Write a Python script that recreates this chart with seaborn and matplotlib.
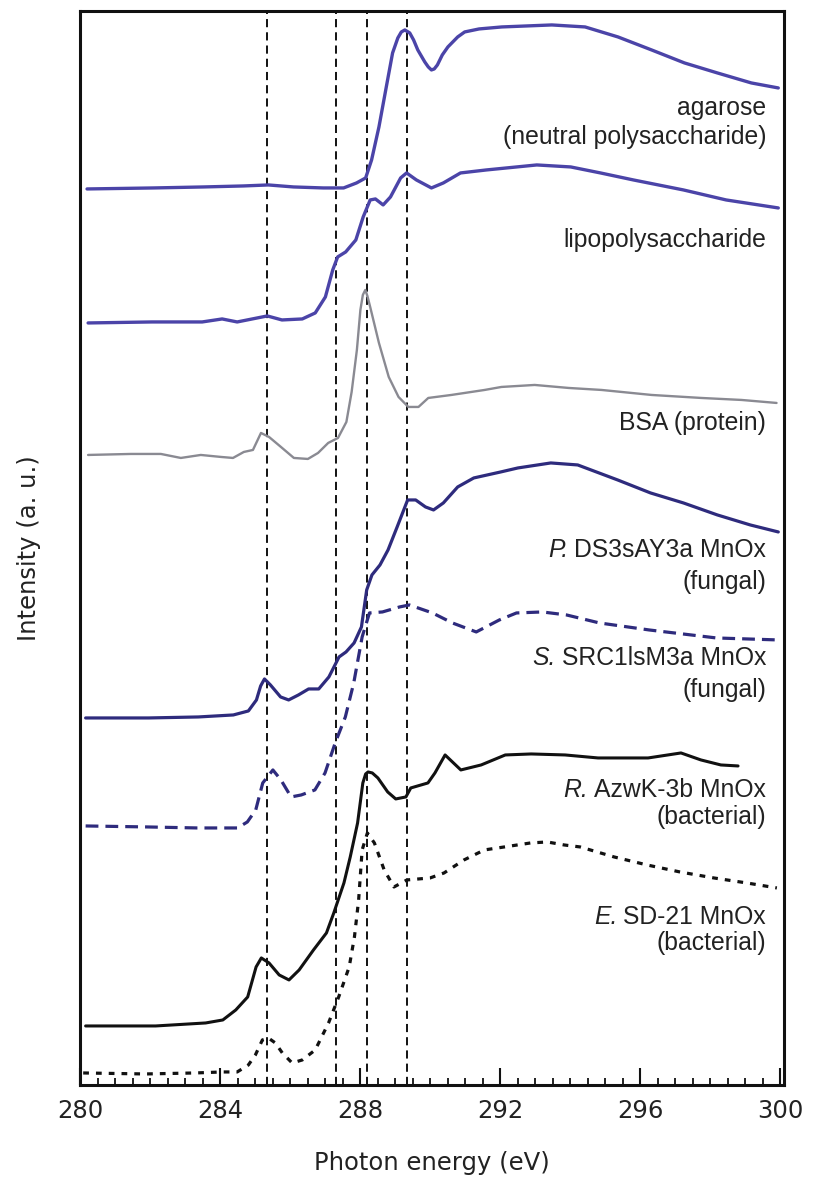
import matplotlib
matplotlib.use("Agg")
import matplotlib.pyplot as plt
import seaborn as sns
import numpy as np
import pandas as pd

# ---------------- data (photon energy in eV, intensity in a.u., offset stacked) -------------
agarose_ev = [280.2, 282.1, 283.53, 284.67, 285.38, 286.1, 286.95, 287.53, 287.9, 288.16, 288.33,
              288.54, 288.75, 288.93, 289.08, 289.18, 289.28, 289.42, 289.53, 289.65, 289.85, 289.95,
              290.04, 290.12, 290.21, 290.35, 290.51, 290.79, 290.99, 291.4, 292.05, 293.48, 294.43,
              295.37, 296.33, 297.27, 298.21, 299.18, 299.95]
agarose_int = [8.98, 8.99, 9.00, 9.01, 9.02, 9.00, 8.99, 8.99, 9.04, 9.09, 9.27,
               9.60, 10.00, 10.34, 10.49, 10.55, 10.57, 10.54, 10.47, 10.37, 10.25, 10.20,
               10.17, 10.18, 10.22, 10.32, 10.40, 10.50, 10.55, 10.58, 10.60, 10.62, 10.60,
               10.50, 10.37, 10.24, 10.14, 10.04, 9.99]

lps_ev = [280.23, 282.06, 283.49, 284.06, 284.49, 285.35, 285.77, 286.35, 286.72, 287.01, 287.22,
          287.36, 287.59, 287.88, 288.09, 288.29, 288.44, 288.66, 288.87, 289.16, 289.33, 289.61,
          290.04, 290.38, 290.87, 291.61, 293.05, 294.02, 294.87, 295.81, 297.24, 298.46, 299.95]
lps_int = [7.64, 7.65, 7.65, 7.68, 7.65, 7.71, 7.67, 7.68, 7.74, 7.90, 8.17,
           8.30, 8.35, 8.47, 8.70, 8.87, 8.88, 8.82, 8.90, 9.09, 9.14, 9.07,
           8.99, 9.04, 9.14, 9.17, 9.22, 9.20, 9.14, 9.07, 8.97, 8.87, 8.79]

bsa_ev = [280.23, 281.45, 282.31, 282.88, 283.45, 284.03, 284.37, 284.68, 284.94, 285.17, 285.4,
          285.74, 286.11, 286.51, 286.8, 287.09, 287.37, 287.61, 287.76, 287.91, 288.01, 288.08,
          288.15, 288.21, 288.29, 288.54, 288.82, 289.1, 289.38, 289.67, 289.95, 290.61, 291.56,
          292.04, 292.99, 293.96, 294.9, 296.33, 297.75, 298.9, 299.9]
bsa_int = [6.32, 6.33, 6.33, 6.29, 6.32, 6.30, 6.29, 6.35, 6.37, 6.54, 6.50,
           6.40, 6.29, 6.28, 6.34, 6.44, 6.49, 6.65, 6.95, 7.37, 7.77, 7.92,
           7.97, 7.91, 7.80, 7.44, 7.10, 6.90, 6.80, 6.80, 6.89, 6.92, 6.97,
           7.00, 7.02, 6.99, 6.97, 6.92, 6.89, 6.87, 6.84]

p_ev = [280.16, 281.96, 283.38, 284.38, 284.81, 285.04, 285.16, 285.27, 285.44, 285.73, 285.96,
        286.24, 286.53, 286.82, 287.11, 287.4, 287.6, 287.83, 288.04, 288.19, 288.34, 288.57,
        288.8, 289.06, 289.36, 289.59, 289.87, 290.1, 290.38, 290.79, 291.25, 292.02, 292.51,
        293.45, 294.22, 295.36, 296.3, 297.24, 298.21, 299.15, 299.95]
p_int = [3.69, 3.69, 3.70, 3.72, 3.76, 3.87, 4.01, 4.08, 4.02, 3.90, 3.87,
         3.92, 3.98, 3.98, 4.10, 4.30, 4.35, 4.44, 4.60, 4.97, 5.12, 5.22,
         5.37, 5.60, 5.87, 5.87, 5.80, 5.77, 5.84, 6.00, 6.09, 6.15, 6.19,
         6.24, 6.22, 6.07, 5.94, 5.84, 5.72, 5.62, 5.55]

s_ev = [280.16, 281.93, 283.35, 284.5, 284.78, 285.02, 285.22, 285.51, 285.74, 286.03, 286.32,
        286.71, 287.0, 287.29, 287.58, 287.82, 288.06, 288.27, 288.64, 289.13, 289.41, 290.07,
        290.64, 291.32, 291.98, 292.47, 293.21, 293.9, 294.84, 296.26, 298.18, 299.95]
s_int = [2.61, 2.60, 2.59, 2.59, 2.65, 2.77, 3.04, 3.17, 3.07, 2.90, 2.92,
         2.97, 3.14, 3.44, 3.70, 4.04, 4.50, 4.74, 4.75, 4.80, 4.82, 4.74,
         4.64, 4.55, 4.67, 4.74, 4.75, 4.72, 4.64, 4.57, 4.49, 4.47]

r_ev = [280.16, 282.16, 283.59, 284.08, 284.45, 284.79, 285.03, 285.18, 285.4, 285.69, 285.97,
        286.26, 286.67, 287.04, 287.25, 287.54, 287.72, 287.93, 288.08, 288.16, 288.23, 288.35,
        288.51, 288.79, 289.02, 289.31, 289.45, 289.94, 290.14, 290.43, 290.88, 291.46, 292.15,
        292.89, 293.86, 294.8, 296.23, 297.17, 297.74, 298.31, 298.8]
r_int = [0.61, 0.61, 0.64, 0.67, 0.77, 0.90, 1.20, 1.29, 1.24, 1.12, 1.07,
         1.17, 1.37, 1.54, 1.74, 2.04, 2.30, 2.64, 3.04, 3.13, 3.15, 3.14,
         3.09, 2.95, 2.88, 2.90, 2.99, 3.04, 3.14, 3.32, 3.17, 3.22, 3.32,
         3.33, 3.32, 3.29, 3.29, 3.34, 3.27, 3.22, 3.21]

e_ev = [280.09, 281.86, 283.29, 284.06, 284.49, 284.81, 285.01, 285.21, 285.38, 285.58, 285.78,
        286.06, 286.35, 286.72, 287.1, 287.39, 287.69, 287.84, 287.96, 288.06, 288.21, 288.41,
        288.69, 288.97, 289.34, 290.0, 290.4, 290.97, 291.55, 292.12, 292.87, 293.35, 293.83,
        294.29, 295.26, 296.2, 297.14, 298.11, 299.05, 299.91]
e_int = [0.14, 0.13, 0.14, 0.15, 0.15, 0.22, 0.32, 0.47, 0.49, 0.44, 0.34,
         0.24, 0.27, 0.37, 0.64, 0.90, 1.20, 1.50, 1.87, 2.37, 2.54, 2.44,
         2.17, 2.00, 2.07, 2.09, 2.14, 2.27, 2.37, 2.40, 2.44, 2.45, 2.42,
         2.40, 2.30, 2.22, 2.15, 2.09, 2.04, 1.99]

ref_lines_ev = [285.35, 287.3, 288.2, 289.35]

x_ticks = [280, 284, 288, 292, 296, 300]

# (genus in italics or "", rest of the line, y position)
label_lines = [
    ("", "agarose", 9.79),
    ("", "(neutral polysaccharide)", 9.50),
    ("", "lipopolysaccharide", 8.47),
    ("", "BSA (protein)", 6.64),
    ("P.", "DS3sAY3a MnOx", 5.37),
    ("", "(fungal)", 5.05),
    ("S.", "SRC1lsM3a MnOx", 4.29),
    ("", "(fungal)", 3.97),
    ("R.", "AzwK-3b MnOx", 2.97),
    ("", "(bacterial)", 2.70),
    ("E.", "SD-21 MnOx", 1.70),
    ("", "(bacterial)", 1.44),
]

# ---------------- style ----------------
sns.set_style("ticks")
plt.rcParams["font.family"] = ["DejaVu Sans"]

BLUE = "#4b44a8"
NAVY = "#2e2b7d"
GRAY = "#8a8a92"
BLACK = "#111111"
TXT = "#222222"

fig = plt.figure(figsize=(8.15, 11.77), dpi=100)
ax = fig.add_axes([0.0982, 0.0782, 0.8632, 0.9125])

for xv in ref_lines_ev:
    ax.axvline(xv, color=BLACK, lw=1.4, linestyle=(0, (4.2, 2.6)), zorder=1)

series = [
    (agarose_ev, agarose_int, BLUE, 2.4, "-"),
    (lps_ev, lps_int, BLUE, 2.4, "-"),
    (bsa_ev, bsa_int, GRAY, 1.7, "-"),
    (p_ev, p_int, NAVY, 2.3, "-"),
    (s_ev, s_int, NAVY, 2.3, (0, (4.0, 2.2))),
    (r_ev, r_int, BLACK, 2.2, "-"),
    (e_ev, e_int, BLACK, 2.3, (0, (1.8, 2.2))),
]
for xs, ys, col, lw, ls in series:
    df = pd.DataFrame({"ev": xs, "I": ys})
    sns.lineplot(data=df, x="ev", y="I", ax=ax, color=col, lw=lw, linestyle=ls,
                 sort=False, estimator=None, zorder=2,
                 solid_joinstyle="round", solid_capstyle="round",
                 dash_joinstyle="round")

ax.set_xlim(280, 300.1)
ax.set_ylim(0.02, 10.76)
ax.set_xticks(x_ticks)
ax.set_xticklabels([str(t) for t in x_ticks])
ax.set_xticks(np.arange(280, 300.01, 0.5), minor=True)
ax.set_yticks([])
ax.tick_params(axis="x", which="major", direction="in", length=12, width=1.5,
               labelsize=17.5, pad=10, colors=BLACK, labelcolor=TXT)
ax.tick_params(axis="x", which="minor", direction="in", length=5, width=1.3, colors=BLACK)
for side in ["left", "right", "top", "bottom"]:
    ax.spines[side].set_visible(True)
    ax.spines[side].set_linewidth(2.2)
    ax.spines[side].set_color(BLACK)

ax.set_xlabel("Photon energy (eV)", fontsize=17.5, color=TXT, labelpad=20)
ax.set_ylabel("Intensity (a. u.)", fontsize=17.5, color=TXT, labelpad=28)

FS = 17.8
fig.canvas.draw()
renderer = fig.canvas.get_renderer()
for genus, rest, yv in label_lines:
    t = ax.text(299.6, yv, rest, ha="right", va="center", fontsize=FS,
                family="Liberation Sans", color=TXT)
    if genus:
        bb = t.get_window_extent(renderer=renderer)
        x_left_data = ax.transData.inverted().transform((bb.x0, bb.y0))[0]
        ax.text(x_left_data - 0.17, yv, genus, ha="right", va="center", fontsize=FS,
                family="Liberation Sans", style="italic", color=TXT)

fig.savefig("out.png", dpi=100)
